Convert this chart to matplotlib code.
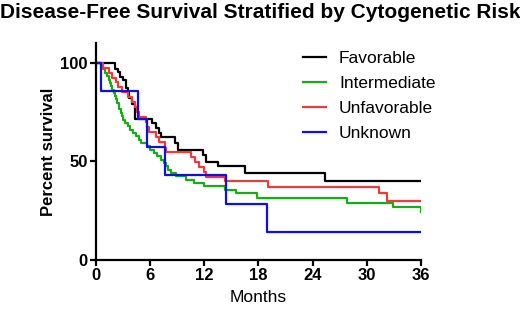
import matplotlib
matplotlib.use("Agg")
import matplotlib.pyplot as plt

# Kaplan-Meier style step data (months, percent survival)
fav_t = [0, 2.1, 2.4, 2.7, 3.0, 3.3, 3.5, 3.7, 4.0, 4.3, 6.2, 6.6, 7.0, 7.2, 8.8, 9.1,
         11.9, 12.2, 13.5, 16.5, 25.4, 36]
fav_s = [100, 97, 95.5, 93, 91, 87, 84.5, 82, 79, 71.5, 69.4, 66.8, 64.3, 62.5, 59.2, 55.8,
         53.3, 49.9, 47.4, 44, 40, 40]

int_t = [0, 0.5, 0.8, 1.0, 1.2, 1.4, 1.5, 1.7, 1.8, 2.0, 2.1, 2.2, 2.3, 2.5, 2.6, 2.8, 2.9,
         3.0, 3.2, 3.6, 3.8, 4.1, 4.4, 4.8, 5.0, 5.6, 6.0, 6.4, 6.8, 7.2, 7.5, 7.8, 8.0, 8.3,
         8.9, 10.0, 10.9, 12.0, 14.3, 15.5, 17.8, 27.8, 32.9, 36]
int_s = [100, 98.3, 96.6, 94.9, 93.2, 91.5, 89.8, 88.1, 86.4, 84.7, 83.1, 81.4, 79.7, 78.0,
         76.3, 74.6, 72.9, 71.2, 69.5, 67.8, 66.1, 64.4, 62.7, 61.0, 59.3, 57.6, 55.9, 54.2,
         52.5, 50.8, 49.2, 47.5, 45.8, 44.1, 42.4, 40.7, 39.0, 37.3, 35.6, 33.9, 31.6, 29.1,
         27.1, 24.5]

unf_t = [0, 0.8, 1.4, 1.8, 2.2, 2.4, 2.9, 3.5, 4.0, 4.3, 4.5, 4.8, 5.5, 5.7, 5.9, 6.7, 7.0,
         7.6, 7.7, 10.5, 11.0, 11.4, 12.0, 12.2, 14.3, 19.1, 31.3, 32.2, 36]
unf_s = [100, 97.5, 95, 92.5, 90, 87.5, 85, 82.5, 80, 77.5, 75, 72.5, 70, 67.5, 65, 62.5, 60,
         57, 54.5, 52, 49.5, 47, 44.5, 42, 39.8, 37.2, 33.8, 30.1, 30.1]

unk_t = [0, 0.6, 4.7, 5.7, 7.6, 14.4, 18.9, 36]
unk_s = [100, 85.7, 71.4, 57.1, 42.9, 28.6, 14.3, 14.3]

groups = ["Favorable", "Intermediate", "Unfavorable", "Unknown"]
colors = ["#000000", "#1aaa1a", "#ee3b3b", "#1010dd"]

plt.rcParams['font.family'] = ['Liberation Sans', 'DejaVu Sans']

fig = plt.figure(figsize=(5.2, 3.09), dpi=100)
ax = fig.add_axes([0.1846, 0.1586, 0.625, 0.7022])

series = [(fav_t, fav_s), (int_t, int_s), (unf_t, unf_s), (unk_t, unk_s)]
for (t, s), name, c in zip(series, groups, colors):
    ax.step(t, s, where='post', color=c, lw=1.6, label=name)

ax.set_xlim(0, 36)
ax.set_ylim(0, 110)
ax.set_xticks([0, 6, 12, 18, 24, 30, 36])
ax.set_yticks([0, 50, 100])

for side in ['top', 'right']:
    ax.spines[side].set_visible(False)
for side in ['left', 'bottom']:
    ax.spines[side].set_linewidth(1.6)
ax.tick_params(direction='out', length=4, width=1.6, labelsize=12, pad=2)
for lab in ax.get_xticklabels() + ax.get_yticklabels():
    lab.set_fontweight('bold')

ax.set_xlabel("Months", fontsize=12.5, labelpad=5)
ax.set_ylabel("Percent survival", fontsize=12, fontweight='bold', labelpad=3)

fig.suptitle("Disease-Free Survival Stratified by Cytogenetic Risk",
             fontsize=15.0, fontweight='bold', x=0.5, y=0.99)

ax.legend(loc='upper left', bbox_to_anchor=(0.59, 1.035), frameon=False,
          fontsize=12.5, handlelength=1.3, handletextpad=0.75, labelspacing=0.56)

fig.savefig("out.png", dpi=100)
